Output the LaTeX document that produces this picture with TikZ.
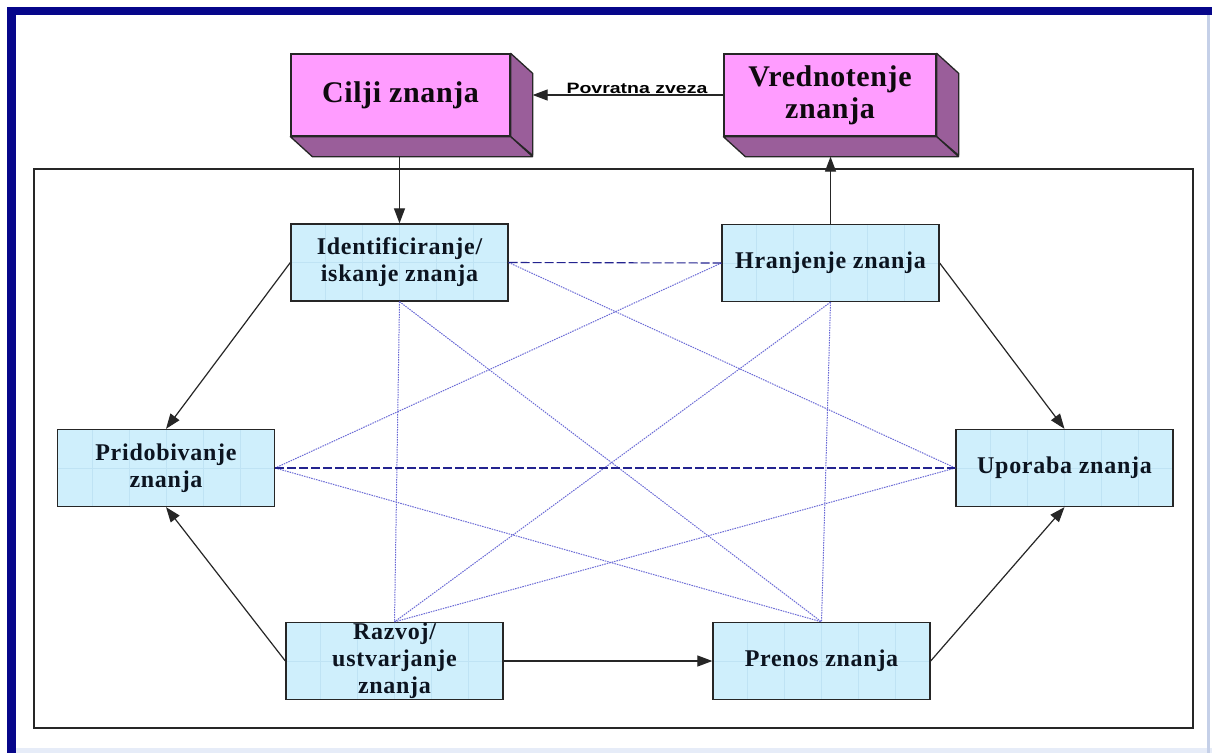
\documentclass[tikz,border=0pt]{standalone}
\usepackage{fontspec}
\setmainfont{Liberation Serif}
\newfontfamily\boxfont{Liberation Serif}[LetterSpace=3]
\newfontfamily\headfont{Liberation Serif}[LetterSpace=2]
\newfontfamily\labfont{Liberation Sans}[FakeStretch=1.3]
\usetikzlibrary{arrows.meta,calc}

\definecolor{framenavy}{HTML}{06068A}
\definecolor{frameedge}{HTML}{C5D0E8}
\definecolor{framebottom}{HTML}{E6ECF8}
\definecolor{boxblue}{HTML}{CFEFFC}
\definecolor{gridblue}{HTML}{BFE3F4}
\definecolor{pinkfront}{HTML}{FF9CFF}
\definecolor{pinkside}{HTML}{9A5E9A}
\definecolor{textdark}{HTML}{0C1420}
\definecolor{linknavy}{HTML}{23238F}
\definecolor{linkviolet}{HTML}{6A6AD6}

\tikzset{
  kbox/.style={draw=black!85, line width=1.3pt, fill=boxblue,
    minimum width=217pt, minimum height=77pt, inner sep=0pt, align=center,
    text=textdark, font={\boxfont\bfseries\fontsize{24pt}{27pt}\selectfont},
    path picture={
      \foreach \i in {-3,...,3}
        \draw[gridblue, line width=0.5pt]
          ([xshift={\i*37pt}]path picture bounding box.north) --
          ([xshift={\i*37pt}]path picture bounding box.south);
      \draw[gridblue, line width=0.5pt]
        (path picture bounding box.west) -- (path picture bounding box.east);
    }},
  pinkbox/.style={draw=black!85, line width=1.3pt, fill=pinkfront,
    minimum height=82pt, inner sep=0pt, align=center, text=black!90!pinkside,
    font={\headfont\bfseries\fontsize{30pt}{32pt}\selectfont}},
  pinkface/.style={draw=black!85, line width=1.3pt, fill=pinkside, line join=round},
  arr/.style={draw=black!85, line width=1.2pt,
    -{Triangle[length=15pt,width=11pt]}},
  hlink/.style={draw=linknavy, line width=1.1pt, dash pattern=on 9pt off 3pt},
  dlink/.style={draw=linkviolet, line width=1pt, dash pattern=on 1.5pt off 1pt},
}

\begin{document}
\begin{tikzpicture}[x=1pt,y=-1pt]
  % canvas and window frame
  \fill[white] (0,0) rectangle (1212,753);
  \useasboundingbox (0,0) rectangle (1212,753);
  \fill[framenavy] (7,7) rectangle (1212,15);
  \fill[framenavy] (7,7) rectangle (16,753);
  \fill[framebottom] (16,748) rectangle (1212,753);
  \fill[frameedge] (1207,15) rectangle (1210,753);

  % enclosing rectangle of the knowledge cycle
  \draw[black!85, line width=1.4pt] (34,169) rectangle (1193,728);

  % the six process boxes
  \node[kbox] (idf) at (399.5,262.5) {Identificiranje/\\iskanje znanja};
  \node[kbox] (hra) at (830.5,263)   {Hranjenje znanja};
  \node[kbox] (pri) at (166,468)     {Pridobivanje\\znanja};
  \node[kbox] (upo) at (1064.5,468)  {Uporaba znanja};
  \node[kbox] (raz) at (394.5,661)   {Razvoj/\\ustvarjanje\\znanja};
  \node[kbox] (pre) at (821.5,661)   {Prenos znanja};

  % the two raised boxes at the top
  \node[pinkbox, minimum width=219pt] (cilji) at (400.5,95) {Cilji znanja};
  \node[pinkbox, minimum width=212pt] (vred) at (830,95) {Vrednotenje\\znanja};
  \foreach \b in {cilji,vred}{
    \filldraw[pinkface] (\b.north east) -- ++(22,20) -- ++(0,82) -- (\b.south east) -- cycle;
    \filldraw[pinkface] (\b.south west) -- (\b.south east) -- ++(22,20)
      -- ($(\b.south west)+(22,20)$) -- cycle;
  }
  \coordinate (cb) at ($(cilji.south)+(0,20)$);
  \coordinate (vb) at ($(vred.south)+(0,20)$);
  \coordinate (cr) at ($(cilji.east)+(22,0)$);

  % cross links between the process boxes
  \draw[dlink] (idf.south) -- (raz.north);
  \draw[dlink] (idf.south) -- (pre.north);
  \draw[dlink] (idf.east) -- (upo.west);
  \draw[dlink] (hra.west) -- (pri.east);
  \draw[dlink] (hra.south) -- (raz.north);
  \draw[dlink] (hra.south) -- (pre.north);
  \draw[dlink] (pri.east) -- (pre.north);
  \draw[dlink] (upo.west) -- (raz.north);
  \draw[hlink] (idf.east) -- (hra.west);
  \draw[hlink] (pri.east) -- (upo.west);

  % main flow
  \draw[arr] (idf.north |- cb) -- (idf.north);
  \draw[arr] (hra.north) -- (hra.north |- vb);
  \draw[arr] (idf.west) -- (pri.north);
  \draw[arr] (raz.west) -- (pri.south);
  \draw[arr] (raz.east) -- (pre.west);
  \draw[arr] (pre.east) -- (upo.south);
  \draw[arr] (hra.east) -- (upo.north);

  % feedback
  \draw[arr] (vred.west) -- (vred.west -| cr);
  \node[fill=white, inner sep=1pt, text=black,
        font={\labfont\bfseries\fontsize{15pt}{17pt}\selectfont}]
    (fb) at (637,88) {Povratna zveza};
\end{tikzpicture}
\end{document}
